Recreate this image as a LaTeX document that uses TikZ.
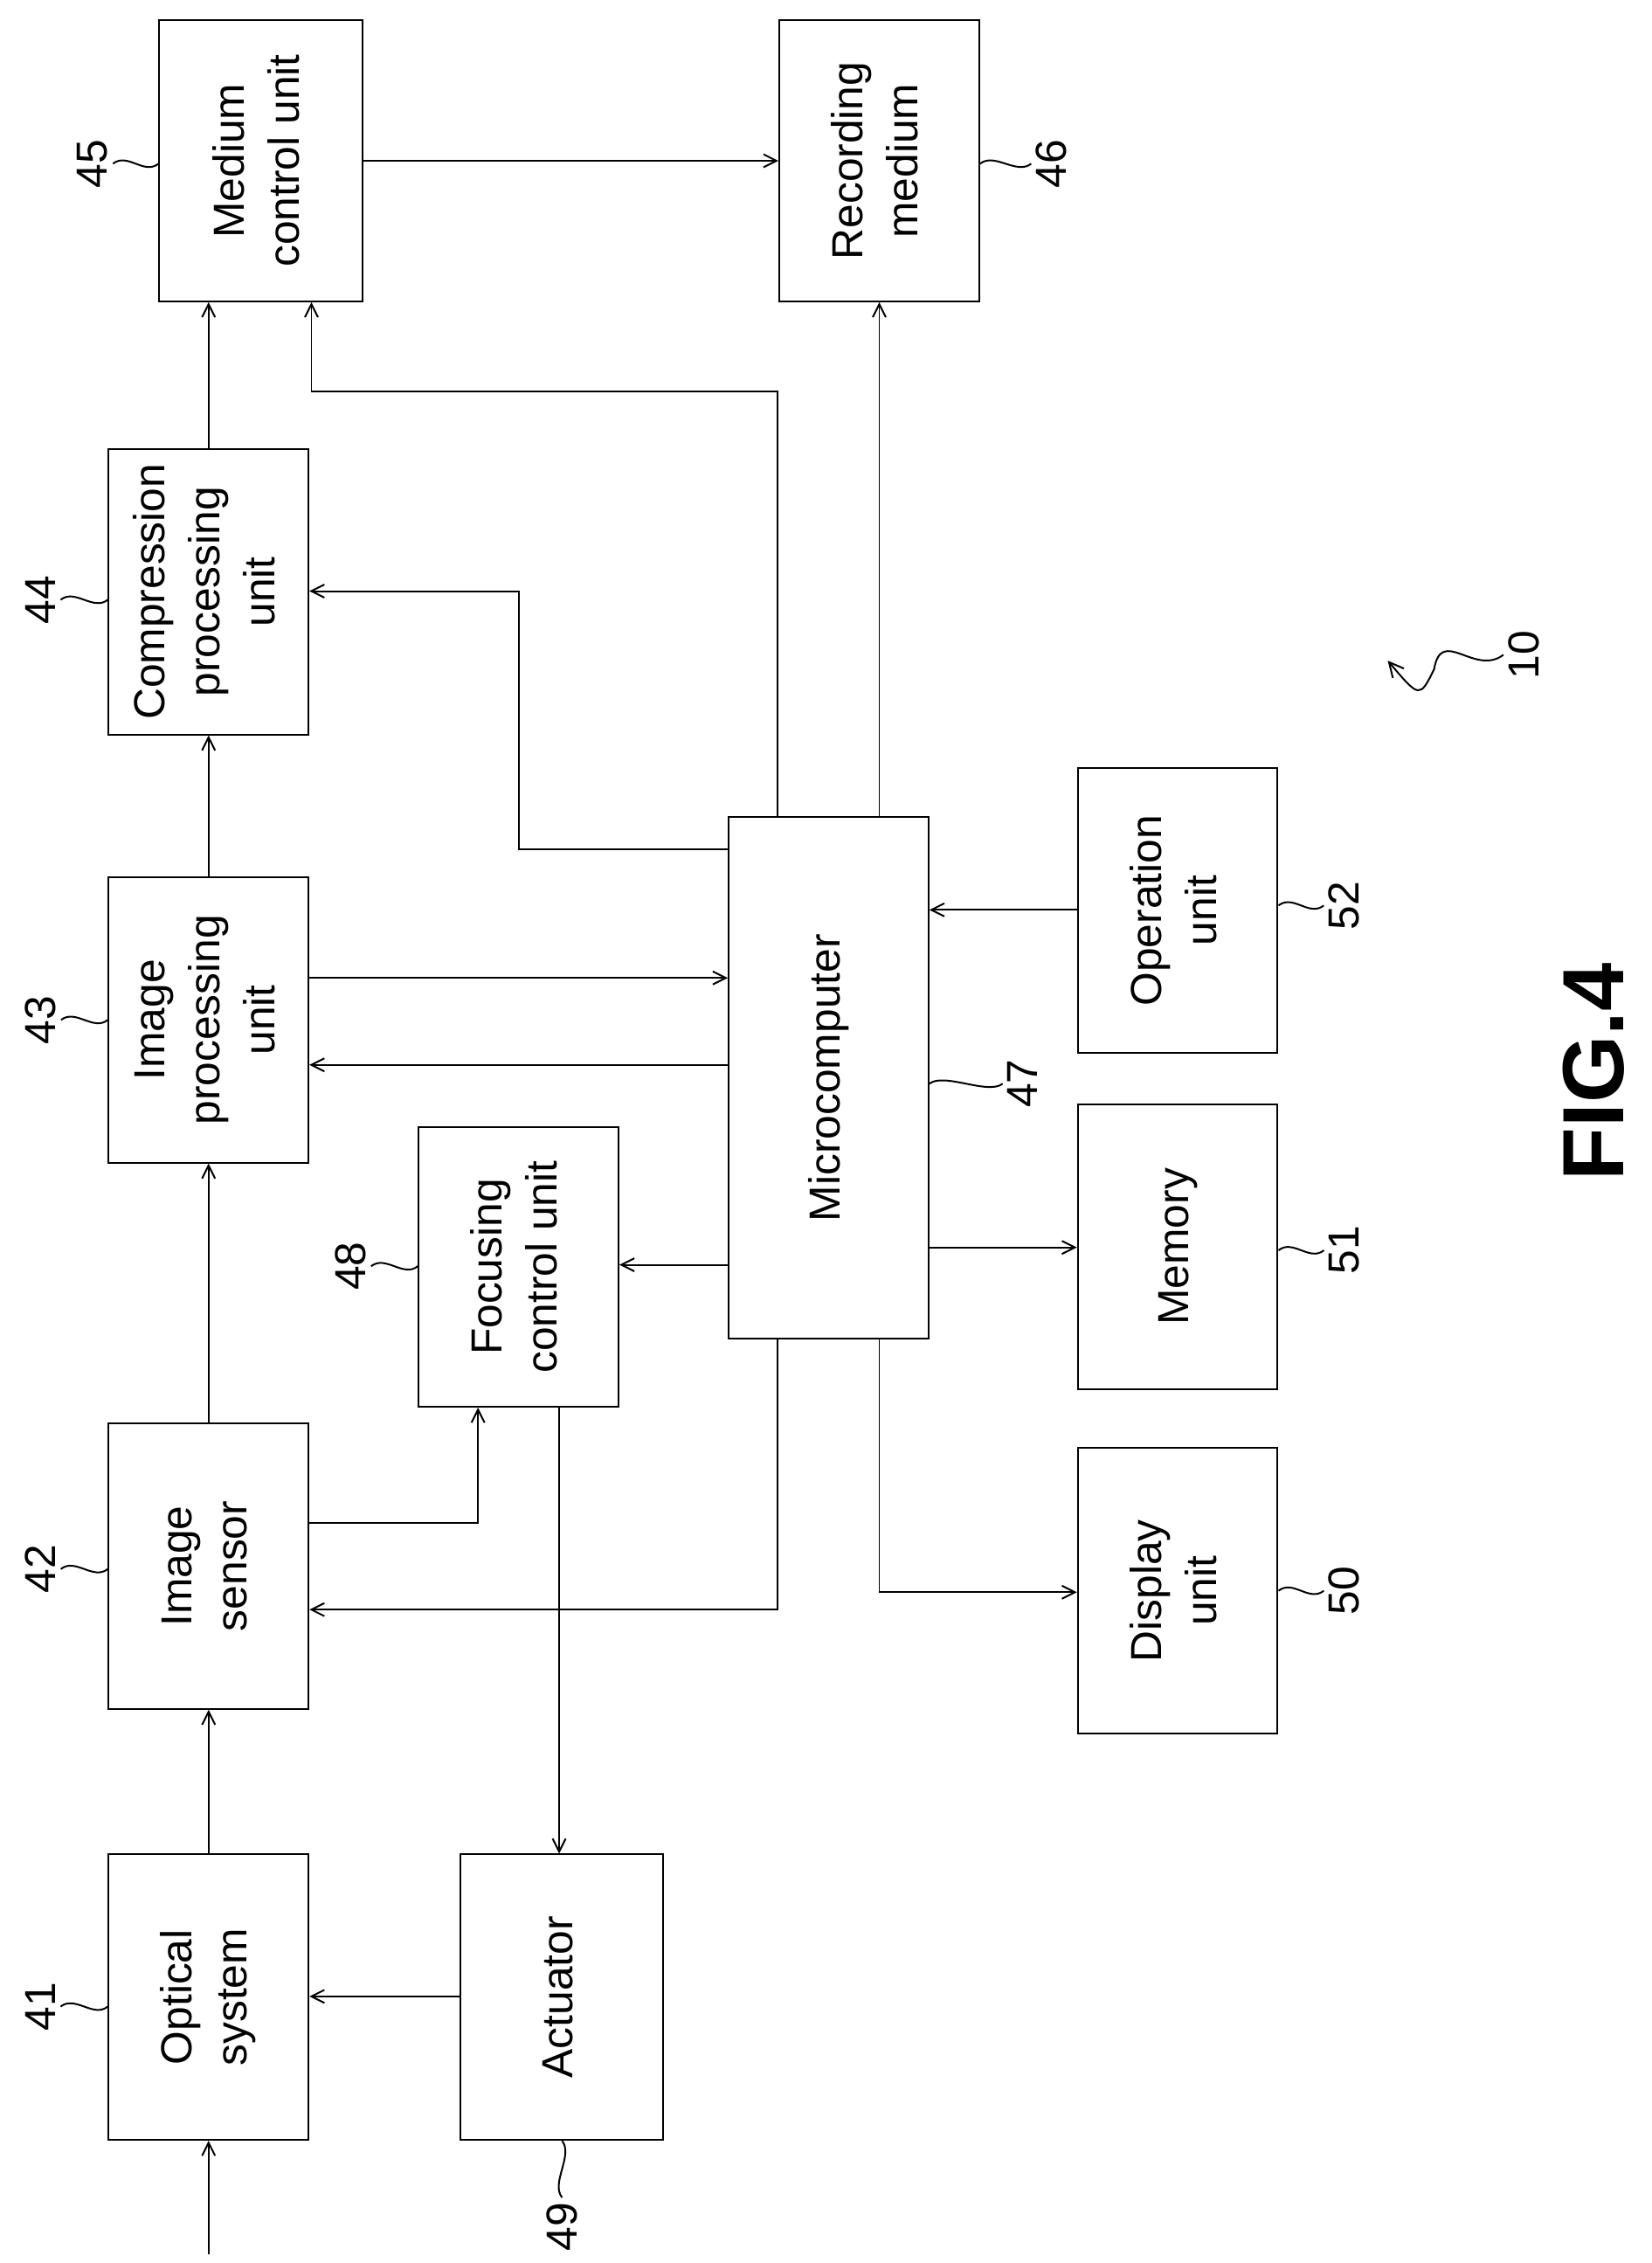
\documentclass[tikz,border=0pt]{standalone}
\usepackage{fontspec}
\setmainfont{Liberation Sans}
\usetikzlibrary{arrows.meta,positioning}
\tikzset{
  blk/.style={draw,line width=1.2pt,inner sep=0pt,minimum width=138pt,minimum height=197pt},
  con/.style={line width=1.2pt,-{Straight Barb[length=9pt,width=9pt]}},
  ln/.style={line width=1.2pt},
  num/.style={font=\fontsize{30}{34}\selectfont,rotate=90},
}
\newcommand{\bx}[1]{\rotatebox{90}{\fontsize{30}{38}\selectfont\begin{tabular}{c}#1\end{tabular}}}
\begin{document}
\begin{tikzpicture}[x=1pt,y=-1pt]
\useasboundingbox (0,0) rectangle (1140,1562);
% blocks
\node[blk] (opt) at (144,1378.5) {\bx{Optical\\system}};
\node[blk] (sen) at (144,1081) {\bx{Image\\sensor}};
\node[blk] (ipu) at (144,704) {\bx{Image\\processing\\unit}};
\node[blk] (cpu) at (144,408.5) {\bx{Compression\\processing\\unit}};
\node[blk,minimum width=140pt,minimum height=194pt] (mcu) at (180,111) {\bx{Medium\\control unit}};
\node[blk,minimum height=194pt] (rec) at (607,111) {\bx{Recording\\medium}};
\node[blk,minimum height=193pt] (foc) at (358,874.5) {\bx{Focusing\\control unit}};
\node[blk,minimum width=140pt] (act) at (388,1378.5) {\bx{Actuator}};
\node[blk,minimum height=360pt] (mic) at (572,744) {\bx{Microcomputer}};
\node[blk] (ope) at (813,628.5) {\bx{Operation\\unit}};
\node[blk] (mem) at (813,860.5) {\bx{Memory}};
\node[blk] (dsp) at (813,1098) {\bx{Display\\unit}};
\coordinate (in) at (144,1556);
% signal path
\draw[con] (in) -- (opt.south);
\draw[con] (opt) -- (sen);
\draw[con] (sen) -- (ipu);
\draw[con] (ipu) -- (cpu);
\draw[con] (cpu.north) -- (cpu.north |- mcu.south);
\draw[con] (mcu) -- (rec);
% microcomputer links
\draw[con] (mic.north -| 537,0) |- (215,270) -- (mcu.south -| 215,0);
\draw[con] (mic.north -| 607,0) -- (rec.south -| 607,0);
\draw[con] (mic.west |- 0,586) -| (358,408) -- (cpu.east |- 0,408);
\draw[con] (ipu.east |- 0,675) -- (mic.west |- 0,675);
\draw[con] (mic.west |- 0,735) -- (ipu.east |- 0,735);
\draw[con] (mic.west |- 0,873) -- (foc.east |- 0,873);
\draw[con] (mic.south -| 537,0) |- (sen.east |- 0,1111);
\draw[con] (sen.east |- 0,1051) -| (foc.south -| 330,0);
\draw[con] (foc.south -| 386,0) -- (act.north -| 386,0);
\draw[con] (act.west |- 0,1378) -- (opt.east |- 0,1378);
\draw[con] (ope.west |- 0,628) -- (mic.east |- 0,628);
\draw[con] (mic.east |- 0,861) -- (mem.west |- 0,861);
\draw[con] (mic.south -| 607,0) |- (dsp.west |- 0,1099);
% reference numerals
\node[num] (n41) at (28,1385) {41};
\node[num] (n42) at (28,1083) {42};
\node[num] (n43) at (28,704) {43};
\node[num] (n44) at (28,414) {44};
\node[num] (n45) at (64,113) {45};
\node[num] (n46) at (726,113) {46};
\node[num] (n47) at (706,748) {47};
\node[num] (n48) at (242,874) {48};
\node[num] (n49) at (388,1537) {49};
\node[num] (n50) at (928,1098) {50};
\node[num] (n51) at (928,863) {51};
\node[num] (n52) at (928,625) {52};
\node[num] (n10) at (1052,452) {10};
\foreach \a/\b in {n41/opt,n42/sen,n43/ipu,n44/cpu,n45/mcu,n48/foc}
  \draw[ln] (\a.south) .. controls +(10,-8) and +(-10,8) .. (\a.south -| \b.west);
\foreach \a/\b in {n46/rec,n50/dsp,n51/mem,n52/ope}
  \draw[ln] (\a.north) .. controls +(-10,8) and +(10,-8) .. (\a.north -| \b.east);
\draw[ln] (n47.north) .. controls +(-10,8) and +(10,-8) .. (n47.north -| mic.east);
\draw[ln] (n49.east) .. controls +(-8,-10) and +(8,10) .. (n49.east |- act.south);
\draw[ln,-{Straight Barb[length=10pt,width=10pt]}] (n10.north) .. controls +(-20,15) and +(5,-30) .. (990,462) .. controls +(-10,20) .. (958,456);
\node[rotate=90,font=\fontsize{60}{70}\selectfont\bfseries] (fig) at (1100,740) {FIG.4};
\end{tikzpicture}
\end{document}
